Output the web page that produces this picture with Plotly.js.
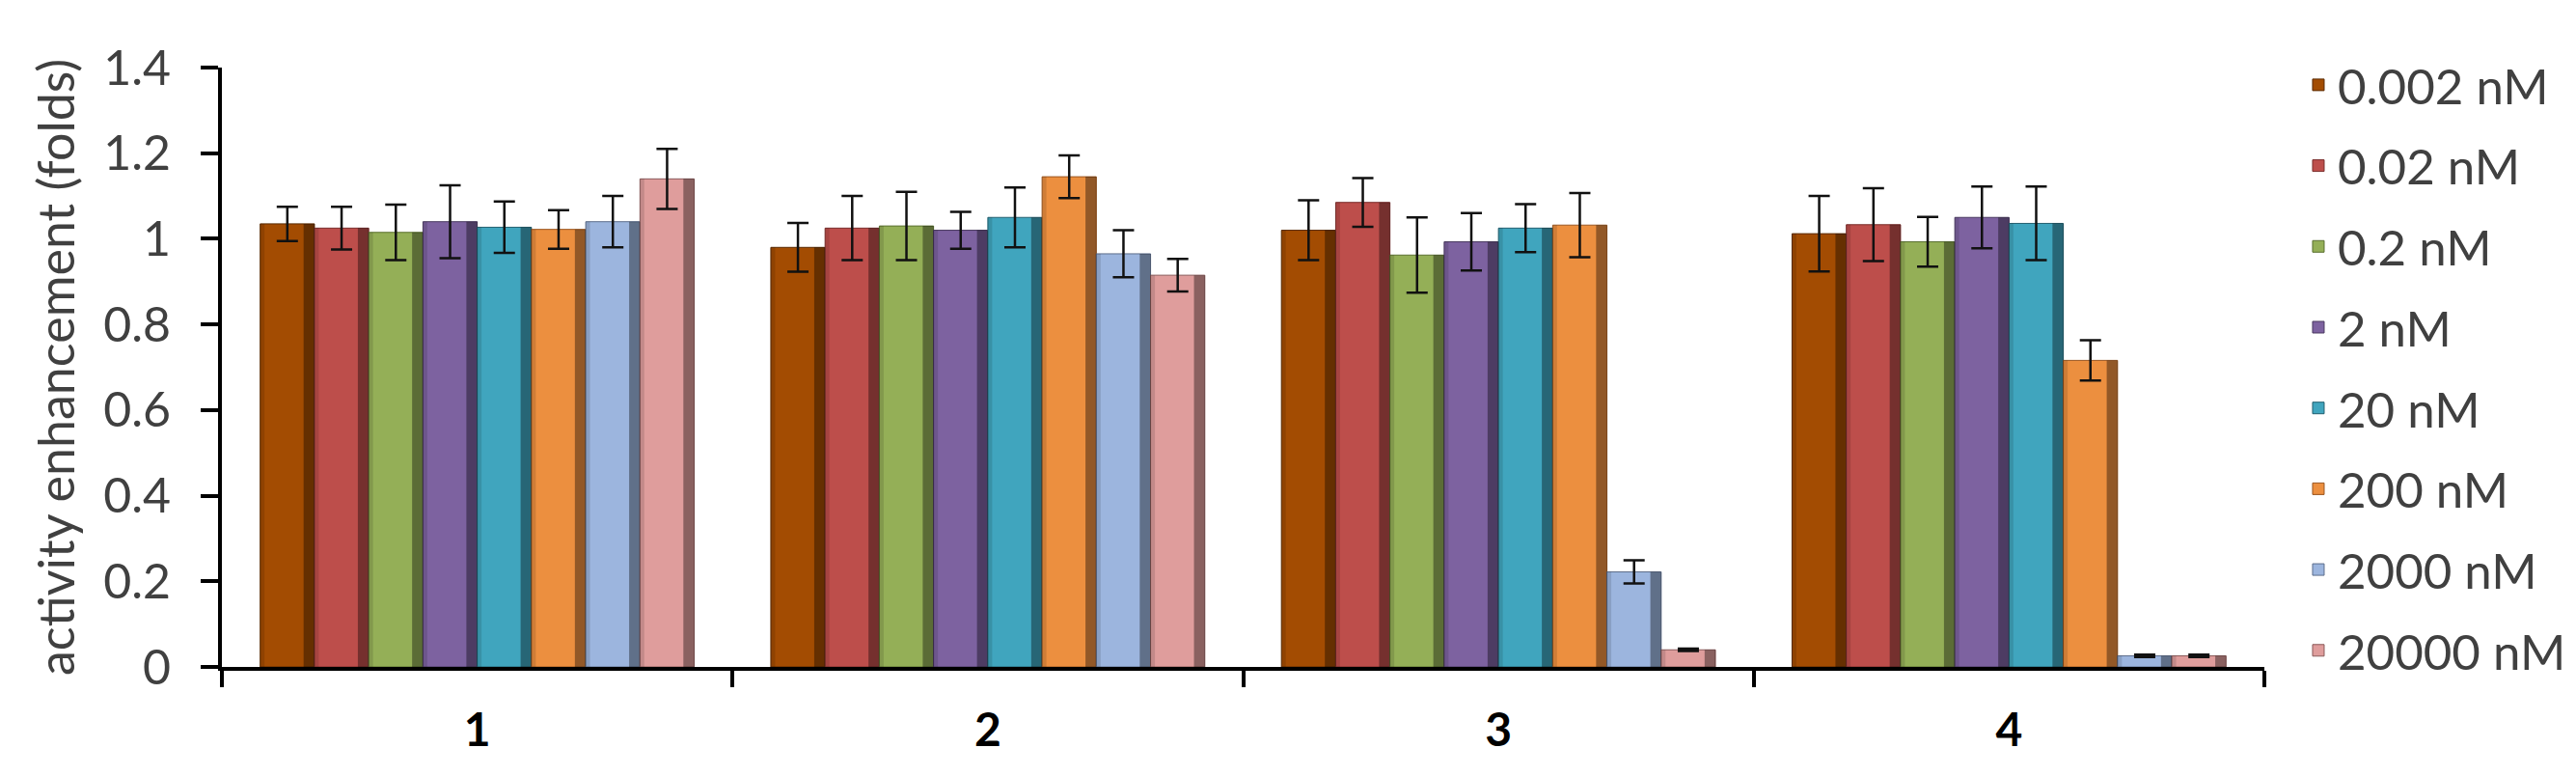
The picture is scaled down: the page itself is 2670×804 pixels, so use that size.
<!DOCTYPE html>
<html>
<head>
<meta charset="utf-8">
<script src="https://cdn.plot.ly/plotly-3.0.1.min.js"></script>
<style>
  html, body { margin: 0; padding: 0; background: #ffffff; }
  #chart { width: 2670px; height: 804px; }
</style>
</head>
<body>
<div id="chart"></div>
<script>
// ---- data ----
const categories = ['1', '2', '3', '4'];
const seriesNames = ['0.002 nM', '0.02 nM', '0.2 nM', '2 nM', '20 nM', '200 nM', '2000 nM', '20000 nM'];

const v0002 = [1.035, 0.980, 1.020, 1.012];
const v002  = [1.025, 1.025, 1.085, 1.033];
const v02   = [1.015, 1.030, 0.962, 0.993];
const v2    = [1.040, 1.020, 0.993, 1.050];
const v20   = [1.027, 1.050, 1.025, 1.036];
const v200  = [1.022, 1.145, 1.032, 0.716];
const v2000 = [1.040, 0.965, 0.222, 0.026];
const v20000 = [1.140, 0.915, 0.040, 0.026];

const e0002 = [0.040, 0.057, 0.070, 0.088];
const e002  = [0.050, 0.075, 0.057, 0.085];
const e02   = [0.065, 0.080, 0.088, 0.058];
const e2    = [0.085, 0.043, 0.067, 0.072];
const e20   = [0.060, 0.070, 0.056, 0.086];
const e200  = [0.045, 0.050, 0.075, 0.047];
const e2000 = [0.060, 0.055, 0.027, 0.003];
const e20000 = [0.070, 0.038, 0.003, 0.003];

const yTickVals = [0, 0.2, 0.4, 0.6, 0.8, 1, 1.2, 1.4];
const yTickText = ['0', '0.2', '0.4', '0.6', '0.8', '1', '1.2', '1.4'];

// ---- styles ----
const fillColors = ['#A34C02', '#BD4E4B', '#94AF57', '#7D62A0', '#40A5BE', '#EC8F3F', '#9CB5DE', '#DF9D9C'];
const edgeColors = ['#5A2A00', '#7A2E2C', '#5A7030', '#4A3A60', '#226070', '#9A5620', '#5E6E8C', '#8A5A59'];

const values = [v0002, v002, v02, v2, v20, v200, v2000, v20000];
const errors = [e0002, e002, e02, e2, e20, e200, e2000, e20000];

const FONT = 'Lato, "Open Sans", sans-serif';

// bar geometry in category units (gap 0.15 of the category shared on both sides)
const GROUP = 0.85;
const W = GROUP / seriesNames.length;

const traces = [];
seriesNames.forEach((name, i) => {
  const off = -GROUP / 2 + i * W;
  traces.push({
    type: 'bar',
    name: name,
    x: categories,
    y: values[i],
    offset: off,
    width: W,
    legendgroup: 'g' + i,
    marker: { color: fillColors[i], line: { color: edgeColors[i], width: 1 } },
    error_y: { type: 'data', array: errors[i], visible: true, color: '#111111', thickness: 2.5, width: 11 }
  });
});
// bevel shading: darker right and left edges of each bar (same data, no legend)
seriesNames.forEach((name, i) => {
  const off = -GROUP / 2 + i * W;
  traces.push({
    type: 'bar', x: categories, y: values[i], showlegend: false, hoverinfo: 'skip',
    offset: off + 0.80 * W, width: 0.20 * W,
    marker: { color: 'rgba(0,0,0,0.38)', line: { width: 0 } }
  });
  traces.push({
    type: 'bar', x: categories, y: values[i], showlegend: false, hoverinfo: 'skip',
    offset: off, width: 0.08 * W,
    marker: { color: 'rgba(0,0,0,0.12)', line: { width: 0 } }
  });
});

const layout = {
  width: 2670,
  height: 804,
  paper_bgcolor: '#ffffff',
  plot_bgcolor: '#ffffff',
  margin: { l: 230, r: 323, t: 70, b: 113, pad: 0 },
  barmode: 'overlay',
  showlegend: true,
  legend: {
    xref: 'container', yref: 'container',
    x: 0.8925, y: 0.94, xanchor: 'left', yanchor: 'top',
    font: { family: FONT, size: 51, color: '#404040' },
    traceorder: 'grouped',
    tracegroupgap: 14.4,
    maxheight: 790,
    bgcolor: 'rgba(0,0,0,0)'
  },
  xaxis: {
    type: 'category',
    range: [-0.5, 3.5],
    showline: true, linecolor: '#000000', linewidth: 4,
    ticks: 'outside', tickson: 'boundaries', ticklen: 17, tickwidth: 4, tickcolor: '#000000',
    tickfont: { family: FONT, size: 48, color: '#000000', weight: 'bold' },
    ticklabelstandoff: 20,
    showgrid: false, zeroline: false
  },
  yaxis: {
    range: [0, 1.4],
    tickvals: yTickVals, ticktext: yTickText,
    showline: true, linecolor: '#000000', linewidth: 4,
    ticks: 'outside', ticklen: 18, tickwidth: 4, tickcolor: '#000000',
    tickfont: { family: FONT, size: 50, color: '#404040' },
    ticklabelstandoff: 21,
    showgrid: false, zeroline: false,
    title: { text: 'activity enhancement (folds)', font: { family: FONT, size: 52, color: '#404040' }, standoff: 14 }
  }
};

Plotly.newPlot('chart', traces, layout, { staticPlot: true, displayModeBar: false });
</script>
</body>
</html>
